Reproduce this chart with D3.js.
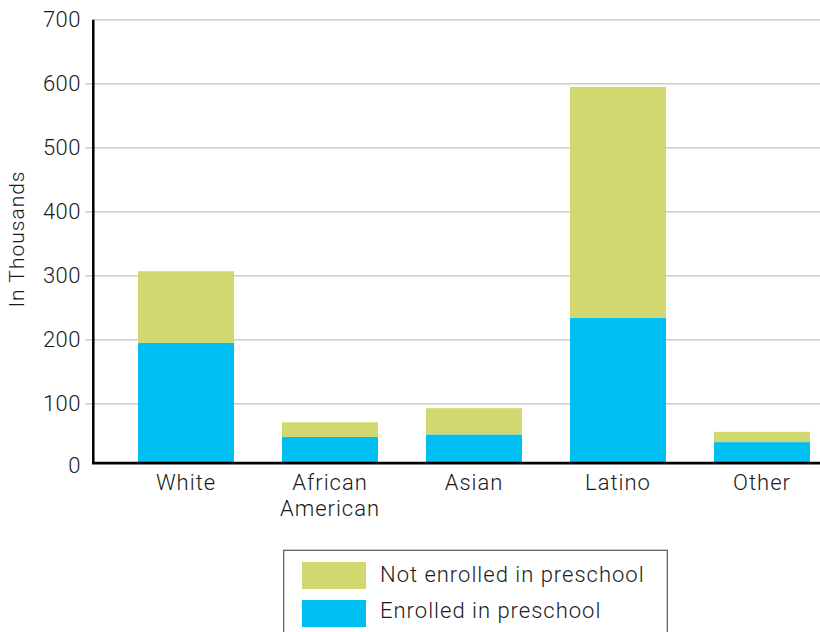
<!DOCTYPE html>
<html>
<head>
<meta charset="utf-8">
<script src="https://cdn.jsdelivr.net/npm/d3@7"></script>
<style>
  html, body { margin: 0; padding: 0; background: #fff; }
  svg { display: block; }
  text { font-family: Roboto, "Liberation Sans", sans-serif; font-weight: 300; fill: #1a1a1a; letter-spacing: 1px; }
</style>
</head>
<body>
<svg id="chart" width="820" height="632"></svg>
<script>
// ---- data ----
const categories = ["White", "African American", "Asian", "Latino", "Other"];
const enrolled = [195, 48, 52, 234, 40];
const notEnrolled = [112, 23, 41, 361, 16];
const yTicks = [0, 100, 200, 300, 400, 500, 600, 700];
const seriesNames = ["Not enrolled in preschool", "Enrolled in preschool"];
const yTitle = "In Thousands";

// ---- styles ----
const colNot = "#d2d870";
const colEnr = "#00bff3";
const fontSize = 22;

const svg = d3.select("#chart");

const y = d3.scaleLinear().domain([0, 700]).range([467.7, 19.7]);
const axisFloor = 8; // value at which the drawn baseline sits
const yBase = y(axisFloor);

const x = d3.scaleBand().domain(categories).range([138, 810]).paddingInner(1/3).paddingOuter(0);

const axisX = 93.3;

// gridlines
svg.append("g").selectAll("line").data(yTicks.filter(t => t > 0)).join("line")
  .attr("x1", d => d === 700 ? axisX : axisX - 8).attr("x2", 820)
  .attr("y1", d => y(d)).attr("y2", d => y(d))
  .attr("stroke", "#cccccc").attr("stroke-width", 1.5);

// tick labels
svg.append("g").selectAll("text").data(yTicks).join("text")
  .attr("x", 81).attr("y", d => d === 0 ? y(d) - 2 : y(d))
  .attr("text-anchor", "end").attr("dominant-baseline", "central")
  .style("font-size", fontSize + "px").style("letter-spacing", "0.5px")
  .text(d => d);

// bars
const rows = categories.map((c, i) => ({ c, e: enrolled[i], n: notEnrolled[i] }));
const g = svg.append("g");
g.selectAll("rect.enr").data(rows).join("rect").attr("class", "enr")
  .attr("x", d => x(d.c)).attr("width", x.bandwidth())
  .attr("y", d => y(d.e)).attr("height", d => yBase - y(d.e))
  .attr("fill", colEnr);
g.selectAll("rect.not").data(rows).join("rect").attr("class", "not")
  .attr("x", d => x(d.c)).attr("width", x.bandwidth())
  .attr("y", d => y(d.e + d.n)).attr("height", d => y(d.e) - y(d.e + d.n))
  .attr("fill", colNot);

// axes lines
svg.append("line").attr("x1", axisX).attr("x2", axisX).attr("y1", y(700)).attr("y2", yBase + 1.5)
  .attr("stroke", "#000").attr("stroke-width", 2.5);
svg.append("line").attr("x1", axisX - 1.25).attr("x2", 820).attr("y1", yBase + 0.5).attr("y2", yBase + 0.5)
  .attr("stroke", "#000").attr("stroke-width", 2.8);

// category labels
const cl = svg.append("g").selectAll("text").data(categories).join("text")
  .attr("x", d => x(d) + x.bandwidth() / 2).attr("y", 489.5)
  .attr("text-anchor", "middle").style("font-size", fontSize + "px");
cl.each(function(d) {
  const words = d.split(" ");
  const t = d3.select(this);
  words.forEach((w, i) => {
    t.append("tspan").attr("x", x(d) + x.bandwidth() / 2).attr("dy", i === 0 ? 0 : 26.5).text(w);
  });
});

// y title
svg.append("text").attr("transform", "translate(17,239) rotate(-90)")
  .attr("text-anchor", "middle").attr("dominant-baseline", "central")
  .style("font-size", "21px").text(yTitle);

// legend
const lg = svg.append("g");
lg.append("rect").attr("x", 283.7).attr("y", 550.3).attr("width", 383.6).attr("height", 100)
  .attr("fill", "none").attr("stroke", "#555").attr("stroke-width", 1.2);
const legendColors = [colNot, colEnr];
seriesNames.forEach((s, i) => {
  lg.append("rect").attr("x", 302).attr("y", 562 + i * 38).attr("width", 64).attr("height", 27)
    .attr("fill", legendColors[i]);
  lg.append("text").attr("x", 380).attr("y", 582.3 + i * 36)
    .style("font-size", fontSize + "px").text(s);
});
</script>
</body>
</html>
